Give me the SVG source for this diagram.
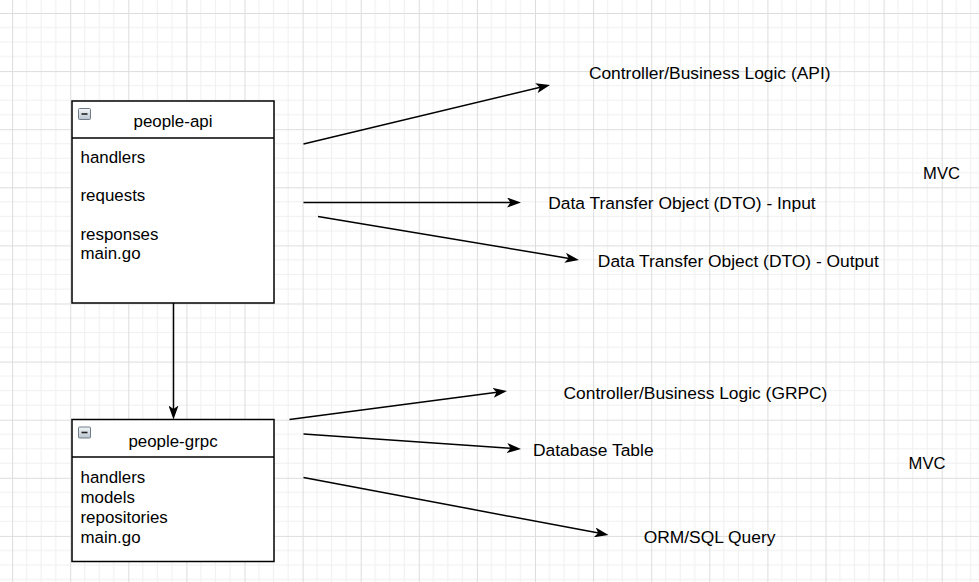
<svg xmlns="http://www.w3.org/2000/svg" width="979" height="582" viewBox="0 0 979 582">
  <style>
    .t { font-family: "Liberation Sans", Arial, Helvetica, sans-serif; font-size: 16.9px; fill: #000; }
    .lbl { font-size: 17.4px; }
    .mvc { font-size: 16.6px; }
    .c { text-anchor: middle; }
    .box { fill: #fff; stroke: #000; stroke-width: 1.5; }
    .sep { stroke: #000; stroke-width: 1.5; }
    .edge { stroke: #000; stroke-width: 1.5; fill: none; marker-end: url(#arr); }
    .icon { fill: url(#ig); stroke: #6f7c8a; stroke-width: 1; }
    .minus { stroke: #222; stroke-width: 1.6; }
  </style>
  <defs>
    <pattern id="grid" patternUnits="userSpaceOnUse" x="12.1" y="13" width="58.1" height="58.1">
      <rect width="58.1" height="58.1" fill="#fff"/>
      <path d="M14.525 0V58.1M29.05 0V58.1M43.575 0V58.1M0 14.525H58.1M0 29.05H58.1M0 43.575H58.1" stroke="#f0f0f0" stroke-width="1"/>
      <path d="M0.5 0V58.1M0 0.5H58.1" stroke="#dddddd" stroke-width="1"/>
    </pattern>
    <linearGradient id="ig" x1="0" y1="0" x2="0" y2="1">
      <stop offset="0" stop-color="#f5f7f9"/>
      <stop offset="1" stop-color="#b9c3cd"/>
    </linearGradient>
    <marker id="arr" markerUnits="userSpaceOnUse" viewBox="0 0 14 10" refX="4" refY="5" markerWidth="14" markerHeight="10" orient="auto">
      <path d="M0,0 L14,5 L0,10 L3.5,5 Z" fill="#000"/>
    </marker>
  </defs>
  <rect width="979" height="582" fill="url(#grid)"/>

  <g id="connectors">
    <line class="edge" x1="173.5" y1="303" x2="173.5" y2="409.5"/>
    <line class="edge" x1="303.5" y1="144" x2="540.3" y2="87.3"/>
    <line class="edge" x1="303.5" y1="202.5" x2="511" y2="202.5"/>
    <line class="edge" x1="318" y1="216.5" x2="569.1" y2="258.4"/>
    <line class="edge" x1="289.5" y1="419.5" x2="497.1" y2="392.3"/>
    <line class="edge" x1="303.5" y1="434" x2="511" y2="448.3"/>
    <line class="edge" x1="303.5" y1="477.5" x2="598.7" y2="533.1"/>
  </g>

  <g id="people-api">
    <rect class="box" x="72" y="101" width="202" height="202"/>
    <line class="sep" x1="72" y1="138" x2="274" y2="138"/>
    <rect class="icon" x="78.5" y="108.5" width="12" height="11" rx="1"/>
    <line class="minus" x1="81.5" y1="114" x2="87.5" y2="114"/>
    <text class="t c" x="173" y="126.7">people-api</text>
    <text class="t" x="80.5" y="163.3">handlers</text>
    <text class="t" x="80.5" y="201">requests</text>
    <text class="t" x="80.5" y="239.7">responses</text>
    <text class="t" x="80.5" y="259.3">main.go</text>
  </g>

  <g id="people-grpc">
    <rect class="box" x="72" y="419.5" width="202" height="142"/>
    <line class="sep" x1="72" y1="457" x2="274" y2="457"/>
    <rect class="icon" x="78.5" y="427" width="12" height="11" rx="1"/>
    <line class="minus" x1="81.5" y1="432.5" x2="87.5" y2="432.5"/>
    <text class="t c" x="173" y="446.7">people-grpc</text>
    <text class="t" x="80.5" y="482.7">handlers</text>
    <text class="t" x="80.5" y="502.7">models</text>
    <text class="t" x="80.5" y="522.7">repositories</text>
    <text class="t" x="80.5" y="542.7">main.go</text>
  </g>

  <g id="label-controller-api"><text class="t lbl c" x="709.7" y="79">Controller/Business Logic (API)</text></g>
  <g id="label-dto-input"><text class="t lbl c" x="682" y="208.7">Data Transfer Object (DTO) - Input</text></g>
  <g id="label-dto-output"><text class="t lbl c" x="738.3" y="266.7">Data Transfer Object (DTO) - Output</text></g>
  <g id="label-mvc-1"><text class="t mvc c" x="941.5" y="179.3">MVC</text></g>
  <g id="label-controller-grpc"><text class="t lbl c" x="695.5" y="398.7">Controller/Business Logic (GRPC)</text></g>
  <g id="label-db-table"><text class="t lbl c" x="593.3" y="456">Database Table</text></g>
  <g id="label-orm"><text class="t lbl c" x="709.5" y="543">ORM/SQL Query</text></g>
  <g id="label-mvc-2"><text class="t mvc c" x="927" y="469.3">MVC</text></g>
</svg>
